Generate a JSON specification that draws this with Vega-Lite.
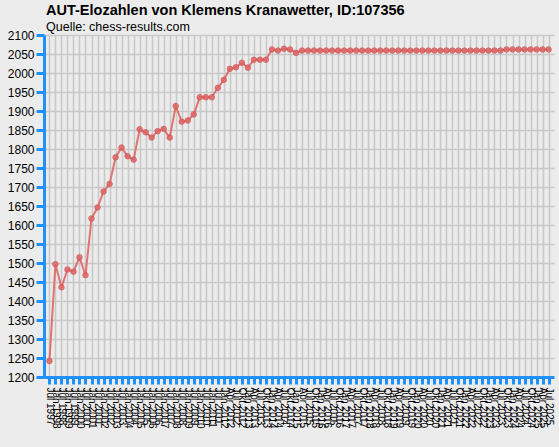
{
  "$schema": "https://vega.github.io/schema/vega-lite/v6.json",
  "autosize": "none",
  "padding": {"left": 44, "top": 35, "right": 5, "bottom": 70},
  "width": 510,
  "height": 342,
  "background": "#ECECEC",
  "title": {
    "text": "AUT-Elozahlen von Klemens Kranawetter, ID:107356",
    "subtitle": "Quelle: chess-results.com",
    "anchor": "start",
    "frame": "group",
    "offset": -5,
    "dx": 2,
    "font": "Liberation Sans",
    "fontSize": 14.5,
    "fontWeight": "bold",
    "color": "#000000",
    "subtitleFont": "Liberation Sans",
    "subtitleFontSize": 12.5,
    "subtitleColor": "#000000",
    "subtitlePadding": 2
  },
  "config": {
    "view": {"stroke": null, "fill": "#EBEBEB"},
    "axis": {
      "domainColor": "#1E90FF",
      "domainWidth": 3,
      "tickColor": "#1E90FF",
      "tickWidth": 3,
      "tickSize": 7,
      "gridColor": "#C8C8C8",
      "gridWidth": 1.5,
      "labelFont": "Liberation Sans",
      "labelColor": "#000000",
      "title": null
    }
  },
  "data": {
    "values": [
      {"Liste": "Jul 1997", "Elo": 1242},
      {"Liste": "Jan 1998", "Elo": 1497},
      {"Liste": "Jul 1998", "Elo": 1436},
      {"Liste": "Jan 1999", "Elo": 1483},
      {"Liste": "Jul 1999", "Elo": 1477},
      {"Liste": "Jan 2000", "Elo": 1515},
      {"Liste": "Jul 2000", "Elo": 1468},
      {"Liste": "Jan 2001", "Elo": 1617},
      {"Liste": "Jul 2001", "Elo": 1646},
      {"Liste": "Jan 2002", "Elo": 1688},
      {"Liste": "Jul 2002", "Elo": 1708},
      {"Liste": "Jan 2003", "Elo": 1778},
      {"Liste": "Jul 2003", "Elo": 1804},
      {"Liste": "Jan 2004", "Elo": 1781},
      {"Liste": "Jul 2004", "Elo": 1772},
      {"Liste": "Jan 2005", "Elo": 1852},
      {"Liste": "Jul 2005", "Elo": 1844},
      {"Liste": "Jan 2006", "Elo": 1830},
      {"Liste": "Jul 2006", "Elo": 1847},
      {"Liste": "Jan 2007", "Elo": 1853},
      {"Liste": "Jul 2007", "Elo": 1830},
      {"Liste": "Jan 2008", "Elo": 1913},
      {"Liste": "Jul 2008", "Elo": 1872},
      {"Liste": "Jan 2009", "Elo": 1875},
      {"Liste": "Jul 2009", "Elo": 1891},
      {"Liste": "Jan 2010", "Elo": 1936},
      {"Liste": "Jul 2010", "Elo": 1936},
      {"Liste": "Jan 2011", "Elo": 1936},
      {"Liste": "Jul 2011", "Elo": 1961},
      {"Liste": "Jan 2012", "Elo": 1982},
      {"Liste": "Apr 2012", "Elo": 2011},
      {"Liste": "Jul 2012", "Elo": 2015},
      {"Liste": "Okt 2012", "Elo": 2027},
      {"Liste": "Jan 2013", "Elo": 2014},
      {"Liste": "Apr 2013", "Elo": 2035},
      {"Liste": "Jul 2013", "Elo": 2035},
      {"Liste": "Okt 2013", "Elo": 2035},
      {"Liste": "Jan 2014", "Elo": 2062},
      {"Liste": "Apr 2014", "Elo": 2059},
      {"Liste": "Jul 2014", "Elo": 2064},
      {"Liste": "Okt 2014", "Elo": 2062},
      {"Liste": "Jan 2015", "Elo": 2053},
      {"Liste": "Apr 2015", "Elo": 2059},
      {"Liste": "Jul 2015", "Elo": 2059},
      {"Liste": "Okt 2015", "Elo": 2059},
      {"Liste": "Jan 2016", "Elo": 2059},
      {"Liste": "Apr 2016", "Elo": 2059},
      {"Liste": "Jul 2016", "Elo": 2059},
      {"Liste": "Okt 2016", "Elo": 2059},
      {"Liste": "Jan 2017", "Elo": 2059},
      {"Liste": "Apr 2017", "Elo": 2059},
      {"Liste": "Jul 2017", "Elo": 2059},
      {"Liste": "Okt 2017", "Elo": 2059},
      {"Liste": "Jan 2018", "Elo": 2059},
      {"Liste": "Apr 2018", "Elo": 2059},
      {"Liste": "Jul 2018", "Elo": 2059},
      {"Liste": "Okt 2018", "Elo": 2059},
      {"Liste": "Jan 2019", "Elo": 2059},
      {"Liste": "Apr 2019", "Elo": 2059},
      {"Liste": "Jul 2019", "Elo": 2059},
      {"Liste": "Okt 2019", "Elo": 2059},
      {"Liste": "Jan 2020", "Elo": 2059},
      {"Liste": "Apr 2020", "Elo": 2059},
      {"Liste": "Jul 2020", "Elo": 2059},
      {"Liste": "Okt 2020", "Elo": 2059},
      {"Liste": "Jan 2021", "Elo": 2059},
      {"Liste": "Apr 2021", "Elo": 2059},
      {"Liste": "Jul 2021", "Elo": 2059},
      {"Liste": "Okt 2021", "Elo": 2059},
      {"Liste": "Jan 2022", "Elo": 2059},
      {"Liste": "Apr 2022", "Elo": 2059},
      {"Liste": "Jul 2022", "Elo": 2059},
      {"Liste": "Okt 2022", "Elo": 2059},
      {"Liste": "Jan 2023", "Elo": 2059},
      {"Liste": "Apr 2023", "Elo": 2059},
      {"Liste": "Jul 2023", "Elo": 2059},
      {"Liste": "Okt 2023", "Elo": 2062},
      {"Liste": "Jan 2024", "Elo": 2062},
      {"Liste": "Apr 2024", "Elo": 2062},
      {"Liste": "Jul 2024", "Elo": 2062},
      {"Liste": "Okt 2024", "Elo": 2062},
      {"Liste": "Jan 2025", "Elo": 2062},
      {"Liste": "Apr 2025", "Elo": 2062},
      {"Liste": "Jul 2025", "Elo": 2062}
    ]
  },
  "encoding": {
    "x": {
      "field": "Liste",
      "type": "ordinal",
      "sort": null,
      "scale": {"type": "point", "padding": 0.9},
      "axis": {
        "grid": true,
        "labelAngle": 90,
        "labelAlign": "left",
        "labelBaseline": "middle",
        "labelFontSize": 10,
        "labelPadding": 3,
        "labelOverlap": false
      }
    },
    "y": {
      "field": "Elo",
      "type": "quantitative",
      "scale": {"domain": [1200, 2100], "nice": false, "zero": false},
      "axis": {
        "values": [1200, 1250, 1300, 1350, 1400, 1450, 1500, 1550, 1600, 1650, 1700, 1750, 1800, 1850, 1900, 1950, 2000, 2050, 2100],
        "format": "d",
        "labelFontSize": 12,
        "labelPadding": 2,
        "tickSize": 8
      }
    }
  },
  "layer": [
    {
      "mark": {"type": "line", "color": "#E06666", "strokeWidth": 2, "opacity": 0.9}
    },
    {
      "mark": {"type": "point", "filled": true, "size": 30, "color": "#E06666", "opacity": 0.85, "stroke": "#D05555", "strokeWidth": 1}
    }
  ]
}
